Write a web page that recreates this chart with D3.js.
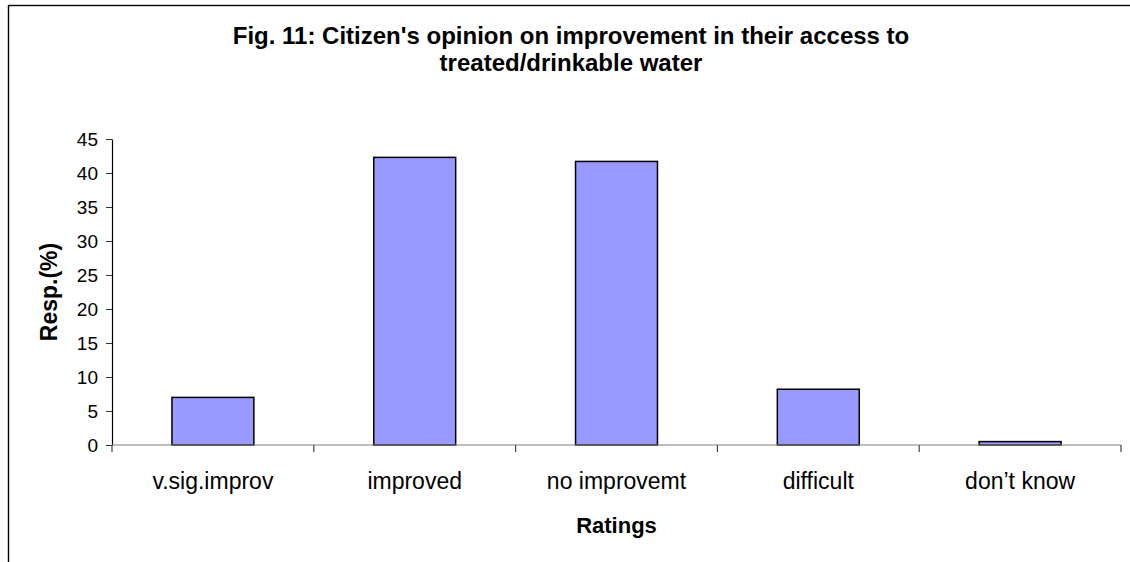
<!DOCTYPE html>
<html>
<head>
<meta charset="utf-8">
<script src="https://cdn.jsdelivr.net/npm/d3@7/dist/d3.min.js"></script>
<style>
  html, body { margin: 0; padding: 0; background: #fff; }
  svg { display: block; font-family: "Liberation Sans", Arial, sans-serif; }
</style>
</head>
<body>
<svg id="chart" width="1130" height="562"></svg>
<script>
const categories = ["v.sig.improv", "improved", "no improvemt", "difficult", "don\u2019t know"];
const values = [7.0, 42.3, 41.7, 8.2, 0.5];
const yTicks = [0, 5, 10, 15, 20, 25, 30, 35, 40, 45];
const titleLines = ["Fig. 11: Citizen's opinion on improvement in their access to", "treated/drinkable water"];
const xTitle = "Ratings";
const yTitle = "Resp.(%)";

const svg = d3.select("#chart");
const plotLeft = 112, plotRight = 1121, plotTop = 139, plotBottom = 445;

// outer frame (extends beyond the right and bottom edges)
svg.append("rect")
  .attr("x", 8.5).attr("y", 5.5).attr("width", 1200).attr("height", 700)
  .attr("fill", "none").attr("stroke", "#000").attr("stroke-width", 1.4);

const x = d3.scaleBand().domain(categories).range([plotLeft, plotRight])
  .paddingInner(0.594).paddingOuter(0.297);
const y = d3.scaleLinear().domain([0, 45]).range([plotBottom, plotTop]);

// bars
svg.append("g").selectAll("rect").data(values).join("rect")
  .attr("x", (d, i) => x(categories[i]))
  .attr("y", d => y(d))
  .attr("width", x.bandwidth())
  .attr("height", d => y(0) - y(d))
  .attr("fill", "#9999ff")
  .attr("stroke", "#000")
  .attr("stroke-width", 1.5);

// y axis
const yAxis = svg.append("g").attr("transform", `translate(${plotLeft},0)`)
  .call(d3.axisLeft(y).tickValues(yTicks).tickSize(6).tickPadding(8).tickSizeOuter(0));
yAxis.select(".domain").attr("stroke", "#000").attr("stroke-width", 1.2);
yAxis.selectAll(".tick line").attr("stroke", "#333");
yAxis.selectAll(".tick text").attr("font-size", 19).attr("fill", "#000")
  .attr("font-family", "Liberation Sans, Arial, sans-serif");

// x axis line
svg.append("line").attr("x1", plotLeft).attr("x2", plotRight).attr("y1", plotBottom).attr("y2", plotBottom)
  .attr("stroke", "#808080").attr("stroke-width", 1.2);
// category boundary ticks
const bScale = d3.scaleLinear().domain([0, categories.length]).range([plotLeft, plotRight]);
svg.append("g").selectAll("line").data(d3.range(categories.length + 1)).join("line")
  .attr("x1", d => bScale(d)).attr("x2", d => bScale(d))
  .attr("y1", plotBottom).attr("y2", plotBottom + 7)
  .attr("stroke", "#444").attr("stroke-width", 1.2);

// x labels
const xAxis = svg.append("g").attr("transform", `translate(0,${plotBottom})`)
  .call(d3.axisBottom(x).tickSize(0).tickPadding(0));
xAxis.select(".domain").remove();
xAxis.selectAll(".tick text").attr("font-size", 23).attr("fill", "#000")
  .attr("dy", null).attr("y", 44)
  .attr("font-family", "Liberation Sans, Arial, sans-serif");

// titles
svg.append("text").attr("x", 571).attr("y", 44)
  .attr("text-anchor", "middle").attr("font-size", 24).attr("font-weight", "bold")
  .text(titleLines[0]);
svg.append("text").attr("x", 571).attr("y", 71)
  .attr("text-anchor", "middle").attr("font-size", 24).attr("font-weight", "bold")
  .text(titleLines[1]);

svg.append("text").attr("x", (plotLeft + plotRight) / 2).attr("y", 533)
  .attr("text-anchor", "middle").attr("font-size", 22).attr("font-weight", "bold")
  .text(xTitle);

svg.append("text").attr("transform", `translate(57,${(plotTop + plotBottom) / 2}) rotate(-90)`)
  .attr("text-anchor", "middle").attr("font-size", 23).attr("font-weight", "bold")
  .text(yTitle);
</script>
</body>
</html>
